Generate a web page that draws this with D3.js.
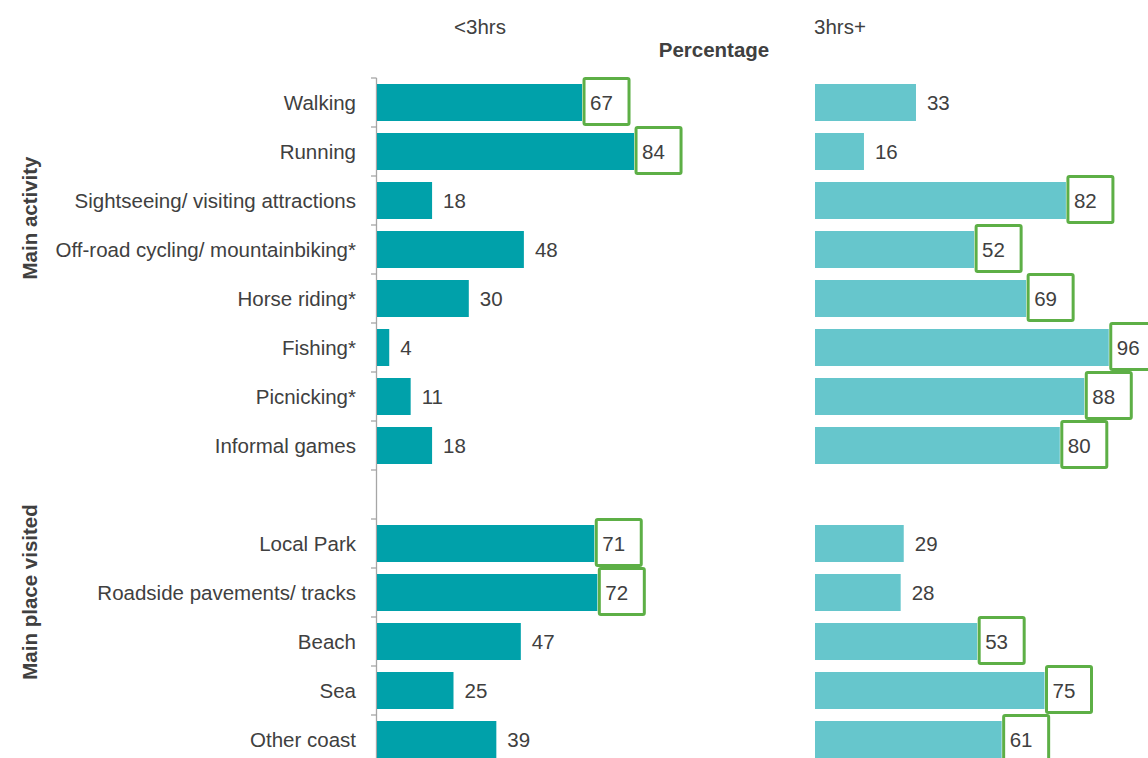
<!DOCTYPE html>
<html><head><meta charset="utf-8">
<script src="https://cdn.jsdelivr.net/npm/d3@7"></script>
<style>body{margin:0;background:#fff}svg{display:block}text{font-family:"Liberation Sans",Arial,sans-serif;fill:#404040}</style>
</head><body>
<svg id="c" width="1148" height="758"></svg>
<script>
const categories = ["Walking","Running","Sightseeing/ visiting attractions","Off-road cycling/ mountainbiking*","Horse riding*","Fishing*","Picnicking*","Informal games","","Local Park","Roadside pavements/ tracks","Beach","Sea","Other coast"];
const groupOf = ["Main activity","Main activity","Main activity","Main activity","Main activity","Main activity","Main activity","Main activity",null,"Main place visited","Main place visited","Main place visited","Main place visited","Main place visited"];
const groups = ["Main activity","Main place visited"];
const seriesNames = ["<3hrs","3hrs+"];
const under3 = [67,84,18,48,30,4,11,18,null,71,72,47,25,39];
const over3 = [33,16,82,52,69,96,88,80,null,29,28,53,75,61];
const axisTitle = "Percentage";

(function(){
const FS = 20.5;
const svg = d3.select("#c");
const keys = categories.map((c,i)=> c===""? "__gap"+i : c);
const y = d3.scaleBand().domain(keys).range([78, 78+49*keys.length]).paddingInner(0.245).paddingOuter(0.1225);
const yStep = d3.scaleBand().domain(keys).range([78, 78+49*keys.length]);
const xL = d3.scaleLinear().domain([0,100]).range([377,683]);
const xR = d3.scaleLinear().domain([0,100]).range([815,1121]);
const colors = ["#00A1AA","#66C6CC"];

svg.append("g").selectAll("text").data(keys.filter(k=>!k.startsWith("__gap"))).join("text")
  .attr("x",356).attr("y",k=>yStep(k)+yStep.bandwidth()/2).attr("dy","0.35em")
  .attr("text-anchor","end").attr("font-size",FS).text(k=>k);

const ax = svg.append("g").attr("stroke","#a6a6a6").attr("stroke-width",1.3);
const yTop = yStep.range()[0], yBot = yStep.range()[1];
ax.append("line").attr("x1",376.5).attr("x2",376.5).attr("y1",yTop).attr("y2",yBot);
const bounds = d3.range(keys.length+1).map(i=>yTop+yStep.step()*i);
ax.selectAll("line.t").data(bounds).join("line").attr("class","t")
  .attr("x1",371).attr("x2",376.5).attr("y1",d=>d).attr("y2",d=>d);

function panel(vals, other, x, color){
  const g = svg.append("g");
  const rows = keys.map((k,i)=>({k, v:vals[i], o:other[i]})).filter(d=>d.v!=null);
  g.selectAll("rect.bar").data(rows).join("rect").attr("class","bar")
    .attr("x",x(0)).attr("y",d=>y(d.k)).attr("width",d=>x(d.v)-x(0)).attr("height",y.bandwidth())
    .attr("fill",color);
  const cy = d=>y(d.k)+y.bandwidth()/2;
  g.selectAll("rect.box").data(rows.filter(d=>d.v>d.o)).join("rect").attr("class","box")
    .attr("x",d=>x(d.v)+2).attr("y",d=>cy(d)-24).attr("width",45).attr("height",46)
    .attr("fill","#fff").attr("stroke","#5DAF46").attr("stroke-width",3).attr("rx",1.5);
  g.selectAll("text").data(rows).join("text")
    .attr("x",d=>x(d.v)+(d.v>d.o?8:11)).attr("y",cy).attr("dy","0.36em")
    .attr("font-size",FS).text(d=>d.v);
}
panel(under3, over3, xL, colors[0]);
panel(over3, under3, xR, colors[1]);

svg.append("text").attr("x",480).attr("y",34).attr("text-anchor","middle").attr("font-size",FS).text(seriesNames[0]);
svg.append("text").attr("x",840).attr("y",34).attr("text-anchor","middle").attr("font-size",FS).text(seriesNames[1]);
svg.append("text").attr("x",714).attr("y",57).attr("text-anchor","middle").attr("font-size",FS).attr("font-weight","bold").text(axisTitle);

const groupCenters = [218, 592];
groups.forEach((gname,i)=>{
  svg.append("text").attr("transform",`translate(37,${groupCenters[i]}) rotate(-90)`)
    .attr("text-anchor","middle").attr("font-size",FS).attr("font-weight","bold").text(gname);
});
})();
</script>
</body></html>
